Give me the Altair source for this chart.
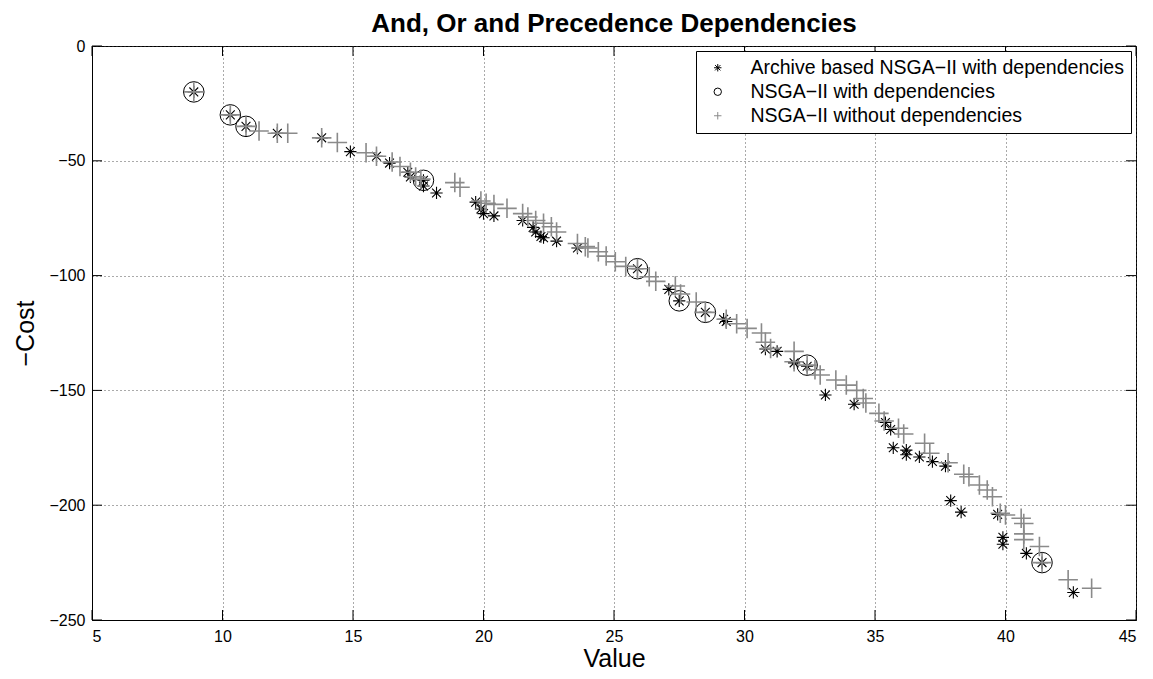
import altair as alt
import pandas as pd

# Archive based NSGA-II with dependencies (asterisks)
arch_x = [8.9, 10.3, 10.9, 12.1, 13.8, 14.9, 15.9, 16.4, 17.1, 17.2, 17.7, 17.7, 18.2,
          19.7, 19.9, 20.0, 20.4, 21.5, 21.9, 22.0, 22.2, 22.3, 22.8, 23.6,
          25.9, 27.1, 27.5, 28.5, 29.2, 29.3, 30.8, 31.25, 31.9, 32.4, 33.1, 34.2,
          35.4, 35.6, 35.7, 36.2, 36.2, 36.7, 37.2, 37.7, 37.9, 38.3, 39.7, 39.9,
          39.9, 40.8, 41.4, 42.6]
arch_y = [-20, -30, -35, -38, -40, -46, -48, -51, -55, -57, -58.5, -61, -64,
          -68, -71, -73, -74, -76, -79, -81, -83, -83.5, -85, -88,
          -97, -106, -111, -116, -119, -120, -132, -133, -138, -139.5, -152, -156,
          -164, -167, -175, -176, -178, -179, -181, -183, -198, -203, -204, -214,
          -217, -221, -225, -238]

# NSGA-II with dependencies (circles)
dep_x = [8.9, 10.3, 10.9, 17.7, 25.9, 27.5, 28.5, 32.4, 41.4]
dep_y = [-20, -30, -35, -58.5, -97, -111, -116, -139, -225]

# NSGA-II without dependencies (pluses)
nodep_x = [8.9, 10.3, 10.9, 11.4, 12.1, 12.5, 13.8, 14.4, 15.5, 15.9, 16.5, 16.8, 17.2,
           17.4, 17.6, 18.9, 19.1, 19.9, 20.1, 20.4, 20.9, 21.5, 21.7, 22.0, 22.3,
           22.6, 22.8, 23.6, 23.9, 24.0, 24.4, 24.7, 25.05, 25.45, 25.9, 26.35, 26.6,
           27.35, 27.55, 28.15, 28.5, 29.3, 29.7, 30.1, 30.65, 30.8, 31.0, 31.9, 31.9,
           32.4, 32.7, 32.9, 33.5, 33.9, 34.3, 34.55, 34.65, 35.15, 35.35, 35.9, 36.1,
           36.9, 37.1, 37.8, 38.4, 38.6, 39.0, 39.3, 39.5, 39.8, 40.0, 40.6, 40.7,
           40.7, 40.7, 41.3, 41.4, 42.4, 43.3]
nodep_y = [-20, -30, -35, -37, -38, -38, -40, -42, -46.5, -48, -50.5, -52.5, -55,
           -57, -58, -59.5, -61.5, -67.5, -68.5, -69, -70.7, -73, -74.5, -76, -77.2,
           -78.7, -81, -86, -87.4, -88, -89.6, -91.5, -94, -96, -97, -100.5, -102.5,
           -104.5, -108, -111.5, -116, -119, -121, -123, -125, -129, -131.7, -133, -137.5,
           -139, -141, -143.3, -145.5, -147.7, -150, -153.5, -155.5, -160, -163.3, -166.5, -169,
           -173, -177.4, -181.5, -186.5, -187.6, -191.2, -193.4, -196.3, -203.5, -204.3, -205.7, -208,
           -212.5, -215, -218, -225, -232.5, -236.2]

series_names = ["Archive based NSGA\u2212II with dependencies",
                "NSGA\u2212II with dependencies",
                "NSGA\u2212II without dependencies"]

x_ticks = [5, 10, 15, 20, 25, 30, 35, 40, 45]
y_ticks = [0, -50, -100, -150, -200, -250]

W, H = 1044, 574
FONT = "Liberation Sans"

asterisk = "M-1,0L1,0M0,-1L0,1M-0.72,-0.72L0.72,0.72M-0.72,0.72L0.72,-0.72"
plus = "M-1,0L1,0M0,-1L0,1"

xscale = alt.Scale(domain=[5, 45], nice=False, zero=False)
yscale = alt.Scale(domain=[-250, 0], nice=False, zero=False)

legend = alt.Legend(title=None, orient="top-right", offset=5,
                    strokeColor="black", fillColor="white",
                    padding=7, labelFont=FONT, labelFontSize=19.5,
                    labelLimit=600, symbolSize=55,
                    symbolStrokeWidth=1, rowPadding=3,
                    labelOffset=23, symbolOffset=5)

shape_scale = alt.Scale(domain=series_names, range=[asterisk, "circle", plus])
color_scale = alt.Scale(domain=series_names, range=["black", "black", "#8a8a8a"])


def layer(xs, ys, name, size, sw):
    d = pd.DataFrame({"x": xs, "y": ys, "series": [name] * len(xs)})
    return alt.Chart(d).mark_point(filled=False, opacity=1, size=size, strokeWidth=sw).encode(
        x=alt.X("x:Q", scale=xscale, title="Value",
                axis=alt.Axis(values=x_ticks, grid=True, ticks=False, labelPadding=8,
                              titlePadding=2)),
        y=alt.Y("y:Q", scale=yscale, title="\u2212Cost",
                axis=alt.Axis(values=y_ticks, grid=True, ticks=False, labelPadding=7,
                              titlePadding=10)),
        shape=alt.Shape("series:N", scale=shape_scale, legend=legend),
        color=alt.Color("series:N", scale=color_scale, legend=legend),
    )


l_arch = layer(arch_x, arch_y, series_names[0], 150, 1.1)
l_dep = layer(dep_x, dep_y, series_names[1], 420, 1.0)
l_nodep = layer(nodep_x, nodep_y, series_names[2], 380, 1.6)

xt = pd.DataFrame({"t": x_ticks})
yt = pd.DataFrame({"t": y_ticks})

xtick_bottom = alt.Chart(xt).mark_rule(color="black", strokeWidth=1).encode(
    x=alt.X("t:Q", scale=xscale), y=alt.value(H), y2=alt.value(H - 10))
xtick_top = alt.Chart(xt).mark_rule(color="black", strokeWidth=1).encode(
    x=alt.X("t:Q", scale=xscale), y=alt.value(0), y2=alt.value(10))
ytick_left = alt.Chart(yt).mark_rule(color="black", strokeWidth=1).encode(
    y=alt.Y("t:Q", scale=yscale), x=alt.value(0), x2=alt.value(10))
ytick_right = alt.Chart(yt).mark_rule(color="black", strokeWidth=1).encode(
    y=alt.Y("t:Q", scale=yscale), x=alt.value(W), x2=alt.value(W - 10))

chart = alt.layer(l_arch, l_dep, l_nodep, xtick_bottom, xtick_top, ytick_left,
                  ytick_right).properties(
    width=W, height=H,
    title=alt.Title("And, Or and Precedence Dependencies", font=FONT, fontSize=26,
                    fontWeight="bold", color="black", offset=1),
    autosize=alt.AutoSizeParams(type="none"),
    padding={"left": 84, "top": 38, "right": 9, "bottom": 51},
    background="white",
).configure_view(
    stroke="black", strokeWidth=1
).configure_axis(
    domainColor="black", domainWidth=1,
    gridColor="#444", gridDash=[1, 3], gridWidth=1, gridOpacity=0.9,
    labelFont=FONT, labelFontSize=16, labelColor="black",
    titleFont=FONT, titleFontSize=25, titleFontWeight="normal", titleColor="black",
)

chart.save("out.html", embed_options={"renderer": "svg", "actions": False})
